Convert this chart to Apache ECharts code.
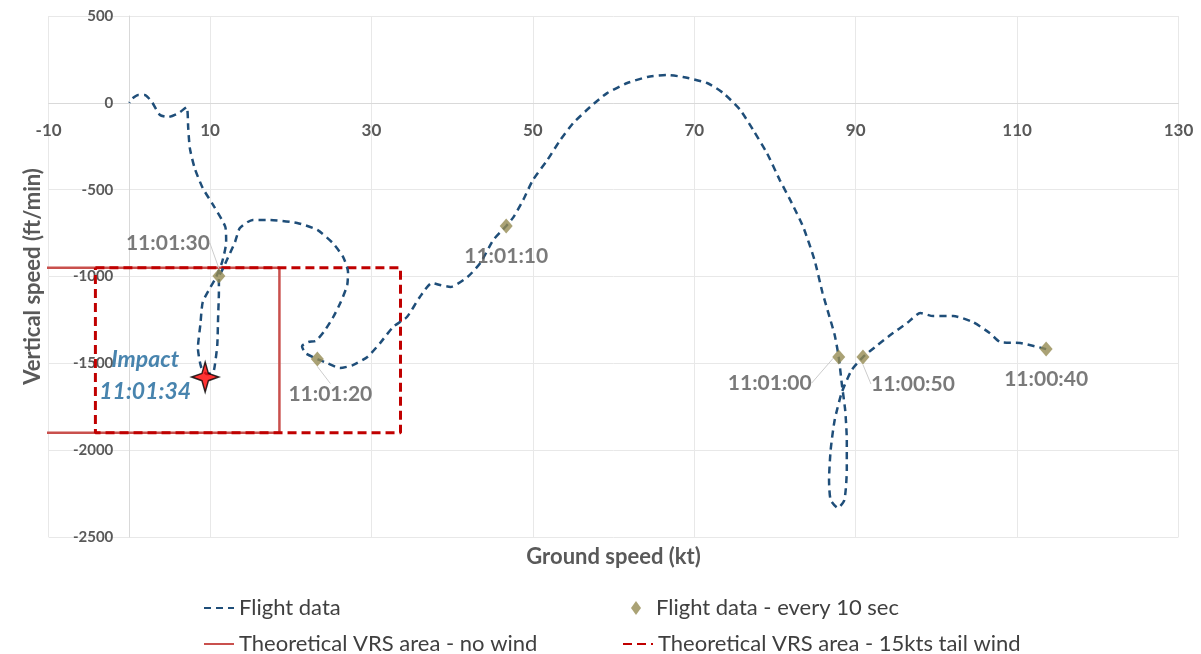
<!DOCTYPE html>
<html lang="en">

<head>
    <meta charset="UTF-8">
    <title>Vertical speed vs ground speed</title>
    <script src="https://cdn.jsdelivr.net/npm/echarts@6/dist/echarts.min.js"></script>
    <style>
        html, body { margin: 0; padding: 0; background: #fff; }
        #chart { width: 1201px; height: 654px; }
    </style>
</head>

<body>
    <div id="chart"></div>
</body>
<script>
    // flight trace, chronological (11:00:40 -> impact -> after impact)
    var groundSpeed = [113.6, 110.4, 107.9, 106.6, 104.5, 102.1, 99.6, 98.0, 96.4, 94.3, 92.7, 90.9,
        89.5, 88.3, 87.4, 86.9, 86.7, 86.9, 87.8, 88.6, 88.9, 88.9, 88.7, 88.3, 87.9,
        87.4, 86.8, 85.9, 84.9, 83.5, 81.9, 80.6, 79.0, 77.3, 75.7, 73.6, 71.6, 68.6, 66.6,
        64.2, 61.7, 59.2, 57.1, 55.0, 53.4, 51.8, 50.0, 48.8, 47.6, 46.7,
        45.1, 43.5, 41.9, 39.8, 38.5, 37.5, 36.0, 34.4, 32.7, 31.1, 29.5, 27.7, 26.1, 24.5, 23.3,
        21.8, 21.4, 22.2, 23.1, 24.1, 25.2, 26.2, 27.0, 27.1, 26.5, 25.2, 23.3, 20.8, 17.4, 15.3,
        13.7, 13.1, 12.2, 11.4, 11.1,
        11.1, 11.0, 10.9, 10.6, 10.4, 9.6, 8.9, 8.5, 8.8, 9.1, 10.0, 10.7, 11.5, 12.0, 11.9,
        10.4, 9.1, 8.1, 7.5, 7.3, 7.1, 6.1, 4.8, 3.8, 2.8, 1.9, 1.1, 0.3, 0.0];
    var verticalSpeed = [-1418, -1383, -1377, -1325, -1262, -1228, -1228, -1210, -1267, -1337, -1395, -1464,
        -1539, -1665, -1826, -1999, -2172, -2287, -2333, -2287, -2114, -1941, -1769, -1625, -1464,
        -1337, -1239, -1095, -905, -715, -560, -445, -289, -157, -41, 56, 114, 149, 160,
        149, 114, 56, -24, -117, -214, -329, -445, -560, -658, -709,
        -790, -922, -1003, -1060, -1049, -1037, -1118, -1233, -1290, -1382, -1463, -1510, -1527, -1498, -1475,
        -1441, -1401, -1377, -1371, -1319, -1239, -1147, -1049, -974, -888, -807, -732, -692, -674, -674,
        -721, -801, -894, -974, -997,
        -1090, -1239, -1395, -1510, -1550, -1562, -1521, -1412, -1279, -1147, -1066, -1009, -917, -802, -715,
        -589, -491, -376, -261, -146, -25, -59, -82, -70, 5, 45, 45, 22, 0];

    // points every 10 sec
    var stampTimes = ["11:00:40", "11:00:50", "11:01:00", "11:01:10", "11:01:20", "11:01:30"];
    var stampSpeed = [113.6, 90.9, 87.9, 46.7, 23.3, 11.1];
    var stampVs = [-1418, -1464, -1464, -709, -1475, -997];

    // theoretical VRS boxes
    var vrsNoWindX = [-19.2, 18.6, 18.6, -19.2, -19.2];
    var vrsNoWindY = [-950, -950, -1900, -1900, -950];
    var vrsTailWindX = [-4.2, 33.6, 33.6, -4.2, -4.2];
    var vrsTailWindY = [-950, -950, -1900, -1900, -950];

    var impactSpeed = 9.4;
    var impactVs = -1579;
    var impactTime = "11:01:34";

    function pairs(xs, ys) {
        return xs.map(function (x, i) { return [x, ys[i]]; });
    }

    var font = "Lato";
    var grey = "#595959";

    // where each time label sits relative to its diamond (px), and whether it gets a leader line
    var stampLabelShift = [[0, 30], [50, 27], [-69, 26], [0, 30], [13, 35], [-51, -33]];
    var stampLeader = [false, true, true, false, true, true];

    var chart = echarts.init(document.getElementById("chart"));

    var legendText = { color: "#404040", fontSize: 22, fontFamily: font };
    // line legends: hide the circle ECharts puts on line icons
    var noDot = { opacity: 0 };

    var option = {
        animation: false,
        grid: { left: 48.6, right: 22.5, top: 16, bottom: 117, containLabel: false, outerBoundsMode: "none" },
        legend: [
            { left: 198, top: 592, itemWidth: 30, itemHeight: 14, itemStyle: noDot, textStyle: legendText, data: ["Flight data"] },
            { left: 626, top: 592, itemWidth: 30, itemHeight: 14, textStyle: legendText, data: [{ name: "Flight data - every 10 sec", icon: "path://M5,0L10,7L5,14L0,7Z" }] },
            { left: 198, top: 628, itemWidth: 30, itemHeight: 14, itemStyle: noDot, textStyle: legendText, data: ["Theoretical VRS area - no wind"] },
            { left: 617, top: 628, itemWidth: 30, itemHeight: 14, itemStyle: noDot, textStyle: legendText, data: ["Theoretical VRS area - 15kts tail wind"] }
        ],
        // axes cross at the origin: pull them into the plot with a negative offset
        xAxis: {
            type: "value",
            min: -10,
            max: 130,
            interval: 20,
            position: "bottom",
            offset: -434,
            name: "Ground speed (kt)",
            nameLocation: "middle",
            nameGap: 443,
            nameTextStyle: { color: grey, fontSize: 22, fontWeight: "bold", fontFamily: font },
            axisLine: { onZero: false, lineStyle: { color: "#d9d9d9" } },
            axisTick: { show: false },
            axisLabel: { margin: 19, color: grey, fontSize: 17, fontWeight: "bold", fontFamily: font },
            splitLine: { show: true, lineStyle: { color: "#e8e8e8" } }
        },
        yAxis: {
            type: "value",
            min: -2500,
            max: 500,
            interval: 500,
            position: "left",
            offset: -80.7,
            name: "Vertical speed (ft/min)",
            nameLocation: "middle",
            nameGap: 85,
            nameTextStyle: { color: grey, fontSize: 22, fontWeight: "bold", fontFamily: font },
            axisLine: { show: true, onZero: false, lineStyle: { color: "#d9d9d9" } },
            axisTick: { show: false },
            axisLabel: {
                margin: 16, color: grey, fontSize: 15, fontWeight: "bold", fontFamily: font,
                formatter: function (v) { return String(v); }
            },
            splitLine: { show: true, lineStyle: { color: "#e8e8e8" } }
        },
        series: [
            {
                name: "Theoretical VRS area - no wind",
                type: "line",
                data: pairs(vrsNoWindX, vrsNoWindY),
                symbol: "none",
                itemStyle: { color: "#c9504d" },
                lineStyle: { color: "#c9504d", width: 2.5 },
                z: 2
            },
            {
                name: "Theoretical VRS area - 15kts tail wind",
                type: "line",
                data: pairs(vrsTailWindX, vrsTailWindY),
                symbol: "none",
                itemStyle: { color: "#c00000" },
                lineStyle: { color: "#c00000", width: 3, type: [9, 5] },
                z: 3
            },
            {
                name: "Flight data",
                type: "line",
                data: pairs(groundSpeed, verticalSpeed),
                symbol: "none",
                smooth: 0.2,
                itemStyle: { color: "#1f4e79" },
                lineStyle: { color: "#1f4e79", width: 2.5, type: [7, 5] },
                z: 4
            },
            {
                name: "Flight data - every 10 sec",
                type: "scatter",
                symbol: "diamond",
                symbolSize: [13, 15],
                itemStyle: { color: "#958b53" },
                data: stampTimes.map(function (t, i) {
                    return {
                        value: [stampSpeed[i], stampVs[i]],
                        name: t,
                        labelLine: { show: stampLeader[i] }
                    };
                }),
                label: {
                    show: true,
                    position: "inside",
                    formatter: "{b}",
                    color: grey,
                    fontSize: 21,
                    fontWeight: "bold",
                    fontFamily: font
                },
                labelLayout: function (p) {
                    var s = stampLabelShift[p.dataIndex];
                    return { dx: s[0], dy: s[1] };
                },
                labelLine: { show: true, lineStyle: { color: "#cccccc", width: 1 } },
                z: 5
            },
            {
                name: "Impact",
                type: "scatter",
                symbol: "path://M0,-10 L2.4,-2.4 L10,0 L2.4,2.4 L0,10 L-2.4,2.4 L-10,0 L-2.4,-2.4 Z",
                symbolSize: [27, 30],
                itemStyle: { color: "#ff0000", borderColor: "#000", borderWidth: 1.5 },
                data: [[impactSpeed, impactVs]],
                label: {
                    show: true,
                    position: "inside",
                    offset: [-60, -1],
                    formatter: "Impact\n" + impactTime,
                    color: "#1a659a",
                    fontSize: 23,
                    lineHeight: 32,
                    fontStyle: "italic",
                    fontWeight: "bold",
                    fontFamily: font
                },
                z: 6
            }
        ]
    };
    chart.setOption(option);
</script>

</html>
